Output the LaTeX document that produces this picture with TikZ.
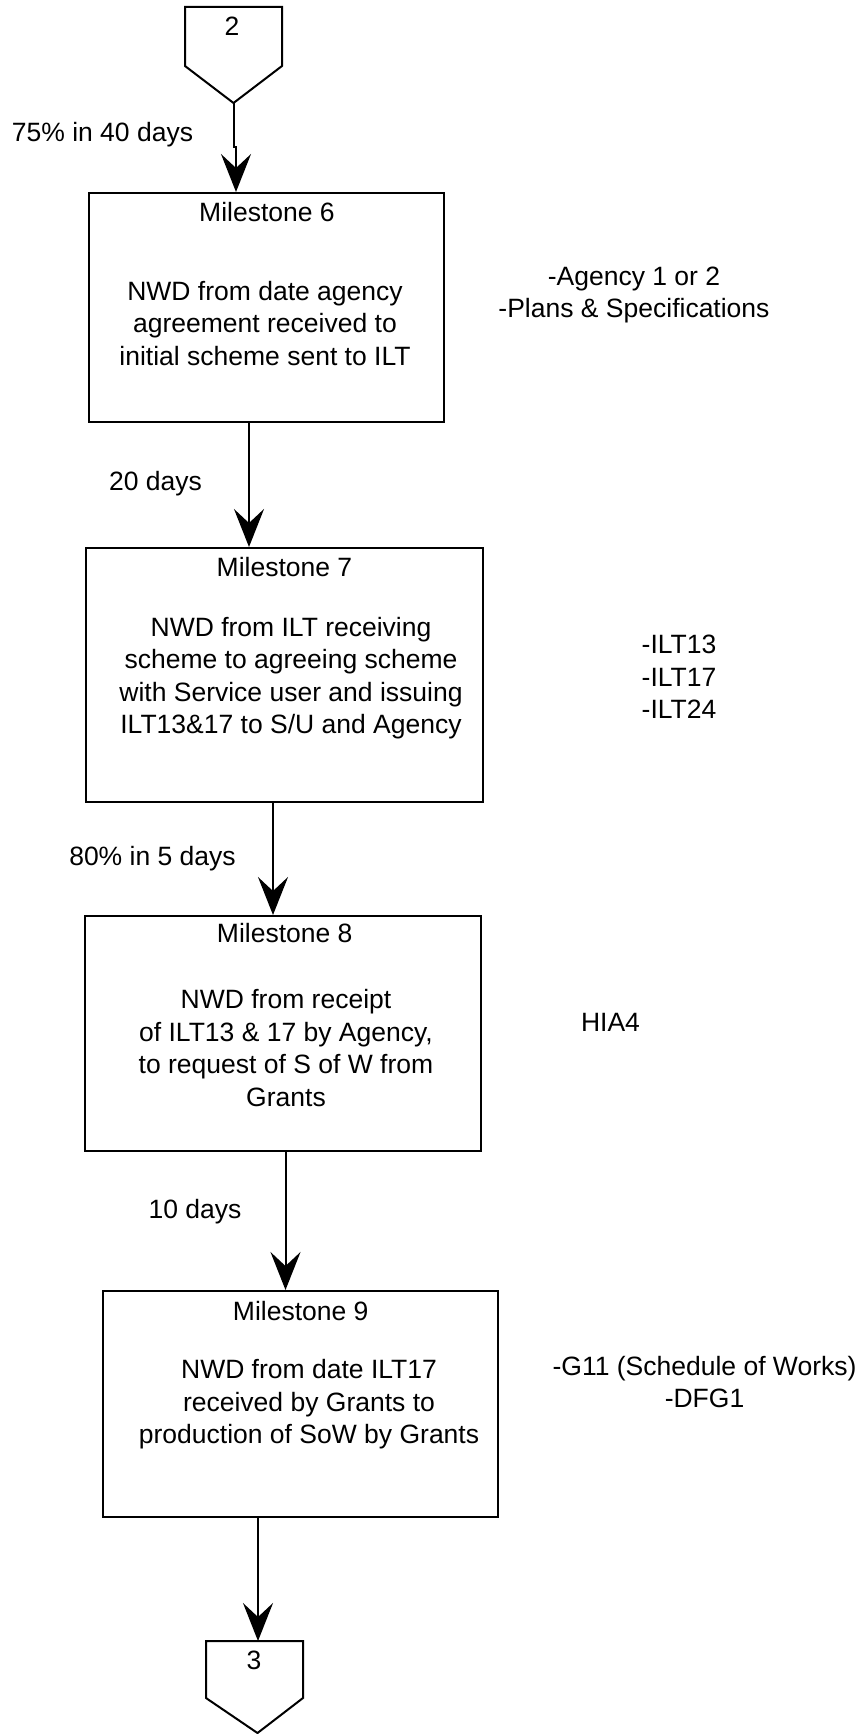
\documentclass[tikz,border=0pt]{standalone}
\usepackage{fontspec}
\setmainfont{Liberation Sans}
\usetikzlibrary{arrows.meta}
\begin{document}
\begin{tikzpicture}[x=1pt,y=-1pt,
  every node/.style={inner sep=0pt, font=\fontsize{26.5}{32.5}\selectfont},
  msbox/.style={draw, line width=2pt, minimum width=#1},
  outline/.style={draw, line width=2pt},
  conn/.style={line width=2pt, -{Stealth[length=38pt,width=30pt,inset=14pt]}},
  body/.style={anchor=north, align=center},
  lbl/.style={anchor=base}]
\useasboundingbox (0,0) rectangle (861,1734);

% off-page connector 2
\draw[outline] (185,7) -- (282,7) -- (282,66) -- (233.5,103) coordinate (c2tip) -- (185,66) -- cycle;
\node[lbl] (n2) at (232,36) {2};

% milestone boxes
\node[msbox=355pt, minimum height=229pt] (m6) at (266.5,307.5) {};
\node[msbox=397pt, minimum height=254pt] (m7) at (284.5,675) {};
\node[msbox=396pt, minimum height=235pt] (m8) at (283,1033.5) {};
\node[msbox=395pt, minimum height=226pt] (m9) at (300,1404) {};

% off-page connector 3
\draw[outline] (206,1641) -- (303,1641) -- (303,1698) -- (257.5,1733) -- (206,1698) -- cycle;
\coordinate (c3top) at (258,1641);
\node[lbl] (n3) at (254,1669) {3};

% box texts
\node[lbl] (h6) at (267,221.7) {Milestone 6};
\node[body] (t6) at (265,280) {\rule{0pt}{20pt}NWD from date agency\\agreement received to\\initial scheme sent to ILT};
\node[lbl] (h7) at (284.5,576.7) {Milestone 7};
\node[body] (t7) at (291,616) {\rule{0pt}{20pt}NWD from ILT receiving\\scheme to agreeing scheme\\with Service user and issuing\\ILT13\&17 to S/U and Agency};
\node[lbl] (h8) at (284.7,942.7) {Milestone 8};
\node[body] (t8) at (286,988.3) {\rule{0pt}{20pt}NWD from receipt\\of ILT13 \& 17 by Agency,\\to request of S of W from\\Grants};
\node[lbl] (h9) at (300.7,1320) {Milestone 9};
\node[body] (t9) at (309,1358.3) {\rule{0pt}{20pt}NWD from date ILT17\\received by Grants to\\production of SoW by Grants};

% connector labels
\node[lbl] (l1) at (102.5,141.7) {75\% in 40 days};
\node[lbl] (l2) at (155.5,490.7) {20 days};
\node[lbl] (l3) at (152.5,865) {80\% in 5 days};
\node[lbl] (l4) at (195,1218.3) {10 days};

% side notes
\node[body] (s6) at (634,265) {\rule{0pt}{20pt}-Agency 1 or 2\\-Plans \& Specifications};
\node[body] (s7) at (679,633.3) {\rule{0pt}{20pt}-ILT13\\-ILT17\\-ILT24};
\node[lbl] (s8) at (610.5,1031.7) {HIA4};
\node[body] (s9) at (704.5,1355) {\rule{0pt}{20pt}-G11 (Schedule of Works)\\-DFG1};

% connectors
\coordinate (x26) at (236,0);
\coordinate (x67) at (249,0);
\coordinate (x78) at (273,0);
\coordinate (x89) at (285.5,0);
\draw[conn] (c2tip) -- ++(0,44) -| (m6.north -| x26);
\draw[conn] (m6.south -| x67) -- (m7.north -| x67);
\draw[conn] (m7.south -| x78) -- (m8.north -| x78);
\draw[conn] (m8.south -| x89) -- (m9.north -| x89);
\draw[conn] (m9.south -| c3top) -- (c3top);
\end{tikzpicture}
\end{document}
